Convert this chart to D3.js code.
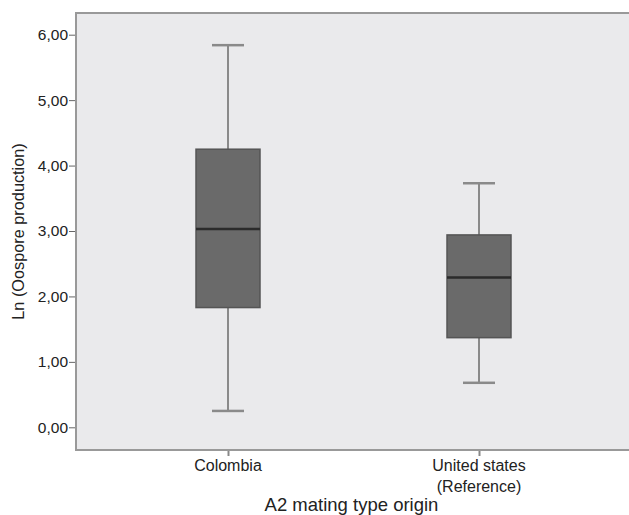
<!DOCTYPE html>
<html>
<head>
<meta charset="utf-8">
<script src="https://cdn.jsdelivr.net/npm/d3@7"></script>
<style>
  body { margin: 0; background: #fff; }
  svg text { font-family: "Liberation Sans", Arial, sans-serif; fill: #222; }
</style>
</head>
<body>
<svg id="graph" width="629" height="515"></svg>
<script>
// box plot values
var groups = ["Colombia", "United states\n(Reference)"];
var lowerWhisker = [0.25, 0.68];
var q1 = [1.83, 1.37];
var medians = [3.03, 2.29];
var q3 = [4.25, 2.94];
var upperWhisker = [5.84, 3.73];
var yTicks = [0, 1, 2, 3, 4, 5, 6];

var width = 629, height = 515;
var margin = { top: 13, right: 0, bottom: 65, left: 76 };
var svg = d3.select("#graph");

var y = d3.scaleLinear()
    .domain([0, 6])
    .range([427.3, 34.7]);

var x = d3.scalePoint()
    .domain(groups)
    .range([228, 479]);

// plot background and frame
svg.append("rect")
    .attr("x", margin.left).attr("y", margin.top)
    .attr("width", width - margin.left).attr("height", height - margin.bottom - margin.top)
    .attr("fill", "#eaeaec");
svg.append("path")
    .attr("d", `M${width},${margin.top}H${margin.left}V${height - margin.bottom}H${width}`)
    .attr("fill", "none")
    .attr("stroke", "#999")
    .attr("stroke-width", 2);

var fmt = d => d3.format(".2f")(d).replace(".", ",");

svg.append("g")
    .attr("transform", `translate(${margin.left - 1},0)`)
    .call(d3.axisLeft(y).tickValues(yTicks).tickFormat(fmt).tickSize(6).tickPadding(1))
    .call(g => g.select(".domain").remove())
    .call(g => g.selectAll(".tick line").attr("stroke", "#666"))
    .call(g => g.selectAll(".tick text").attr("font-size", 15.5).attr("fill", "#222"));

svg.append("g")
    .attr("transform", `translate(0,${height - margin.bottom + 1})`)
    .call(d3.axisBottom(x).tickSize(5).tickFormat(""))
    .call(g => g.select(".domain").remove())
    .call(g => g.selectAll(".tick line").attr("stroke", "#888").attr("stroke-width", 2));

// category labels (multi-line)
groups.forEach(function(name) {
    name.split("\n").forEach(function(line, i) {
        svg.append("text")
            .attr("x", x(name))
            .attr("y", 470.5 + i * 21)
            .attr("text-anchor", "middle")
            .attr("font-size", 16)
            .text(line);
    });
});

var boxW = 64, capW = 32;
var boxes = svg.append("g").selectAll("g")
    .data(groups)
    .join("g");

boxes.append("line")
    .attr("x1", (d) => x(d)).attr("x2", (d) => x(d))
    .attr("y1", (d, i) => y(lowerWhisker[i])).attr("y2", (d, i) => y(upperWhisker[i]))
    .attr("stroke", "#8a8a8a").attr("stroke-width", 2);
boxes.append("line")
    .attr("x1", (d) => x(d) - capW / 2).attr("x2", (d) => x(d) + capW / 2)
    .attr("y1", (d, i) => y(upperWhisker[i])).attr("y2", (d, i) => y(upperWhisker[i]))
    .attr("stroke", "#8a8a8a").attr("stroke-width", 2.5);
boxes.append("line")
    .attr("x1", (d) => x(d) - capW / 2).attr("x2", (d) => x(d) + capW / 2)
    .attr("y1", (d, i) => y(lowerWhisker[i])).attr("y2", (d, i) => y(lowerWhisker[i]))
    .attr("stroke", "#8a8a8a").attr("stroke-width", 2.5);
boxes.append("rect")
    .attr("x", (d) => x(d) - boxW / 2)
    .attr("width", boxW)
    .attr("y", (d, i) => y(q3[i]))
    .attr("height", (d, i) => y(q1[i]) - y(q3[i]))
    .attr("fill", "#6a6a6a")
    .attr("stroke", "#555")
    .attr("stroke-width", 1.5);
boxes.append("line")
    .attr("x1", (d) => x(d) - boxW / 2).attr("x2", (d) => x(d) + boxW / 2)
    .attr("y1", (d, i) => y(medians[i])).attr("y2", (d, i) => y(medians[i]))
    .attr("stroke", "#2b2b2b").attr("stroke-width", 2.5);

// axis titles
svg.append("text")
    .attr("x", 351.5).attr("y", 511)
    .attr("text-anchor", "middle")
    .attr("font-size", 18.5)
    .text("A2 mating type origin");

svg.append("text")
    .attr("transform", "translate(24,231.5) rotate(-90)")
    .attr("text-anchor", "middle")
    .attr("font-size", 16.3)
    .text("Ln (Oospore production)");
</script>
</body>
</html>
